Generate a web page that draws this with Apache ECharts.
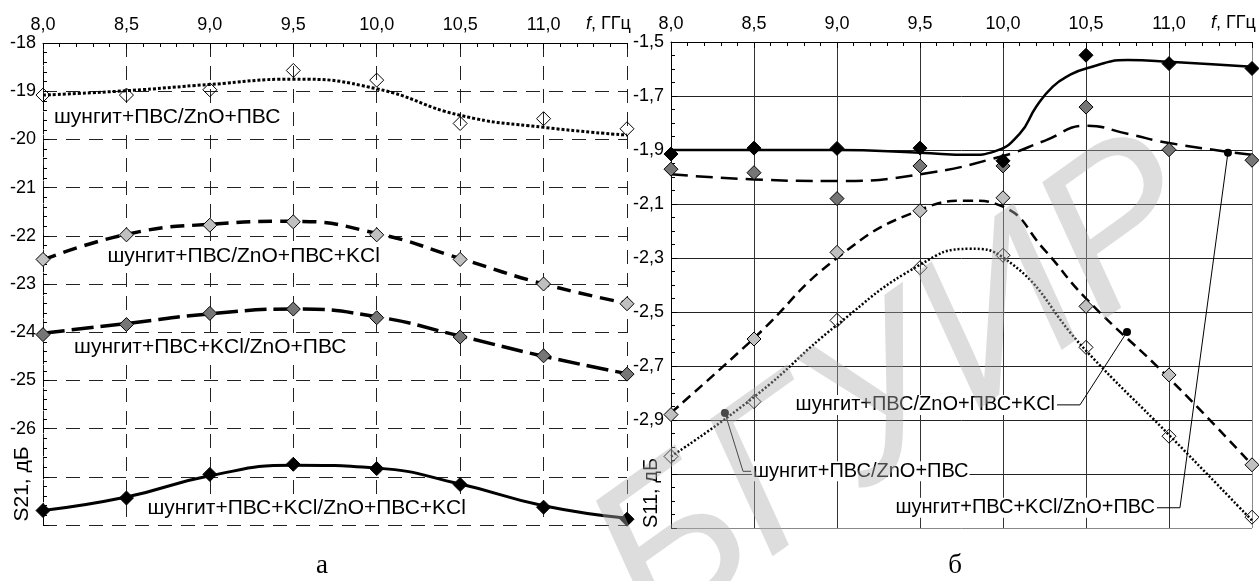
<!DOCTYPE html>
<html><head><meta charset="utf-8">
<script src="https://cdn.jsdelivr.net/npm/echarts@6/dist/echarts.min.js"></script>
<style>html,body{margin:0;padding:0;background:#fff}#c{width:1259px;height:581px}</style>
</head><body><div id="c"></div>
<script>
// ---------- DATA ----------
const freq = [8.0, 8.5, 9.0, 9.5, 10.0, 10.5, 11.0, 11.5];
const xTickValues = [8.0, 8.5, 9.0, 9.5, 10.0, 10.5, 11.0];
const xTickLabels = ['8,0', '8,5', '9,0', '9,5', '10,0', '10,5', '11,0'];
const xUnitLabel = ', ГГц';
const s21TickValues = [-18, -19, -20, -21, -22, -23, -24, -25, -26];
const s21TickLabels = ['-18', '-19', '-20', '-21', '-22', '-23', '-24', '-25', '-26'];
const s11TickValues = [-1.5, -1.7, -1.9, -2.1, -2.3, -2.5, -2.7, -2.9];
const s11TickLabels = ['-1,5', '-1,7', '-1,9', '-2,1', '-2,3', '-2,5', '-2,7', '-2,9'];
const s21Name = 'S21, дБ';
const s11Name = 'S11, дБ';
const panelA = 'а';
const panelB = 'б';
const watermark = 'БГУИР';

const nPvs = 'шунгит+ПВС/ZnO+ПВС';
const nPvsKcl = 'шунгит+ПВС/ZnO+ПВС+KCl';
const nKclPvs = 'шунгит+ПВС+KCl/ZnO+ПВС';
const nKclKcl = 'шунгит+ПВС+KCl/ZnO+ПВС+KCl';

// S21 measured points
const s21Pvs    = [-19.08, -19.08, -18.97, -18.57, -18.77, -19.67, -19.57, -19.78];
const s21PvsKcl = [-22.49, -21.98, -21.78, -21.71, -21.98, -22.49, -23.00, -23.41];
const s21KclPvs = [-24.05, -23.84, -23.61, -23.52, -23.70, -24.10, -24.49, -24.87];
const s21KclKcl = [-27.70, -27.44, -26.95, -26.74, -26.83, -27.16, -27.63, -27.88];
// S21 trend curves (read at freq)
const s21PvsFit    = [-19.08, -18.99, -18.86, -18.75, -18.95, -19.50, -19.75, -19.91];
const s21PvsKclFit = [-22.50, -21.97, -21.76, -21.70, -21.95, -22.47, -23.00, -23.40];
const s21KclPvsFit = [-24.02, -23.82, -23.62, -23.52, -23.68, -24.08, -24.50, -24.86];
const s21KclKclFit = [-27.70, -27.42, -26.98, -26.76, -26.82, -27.15, -27.60, -27.86];

// S11 measured points
const s11Pvs    = [-3.035, -2.832, -2.531, -2.336, -2.290, -2.631, -2.960, -3.260];
const s11PvsKcl = [-2.880, -2.600, -2.279, -2.125, -2.077, -2.479, -2.733, -3.066];
const s11KclPvs = [-1.971, -1.984, -2.080, -1.959, -1.959, -1.741, -1.899, -1.938];
const s11KclKcl = [-1.915, -1.893, -1.894, -1.893, -1.940, -1.549, -1.580, -1.598];
// S11 trend curves
const s11PvsFitX    = [8.0, 8.5, 9.0, 9.5, 9.8, 10.0, 10.5, 11.0, 11.5];
const s11PvsFitY    = [-3.035, -2.815, -2.548, -2.325, -2.266, -2.298, -2.643, -2.955, -3.272];
const s11PvsKclFitX = [8.0, 8.5, 9.0, 9.5, 9.8, 10.0, 10.25, 10.5, 11.0, 11.5];
const s11PvsKclFitY = [-2.873, -2.597, -2.300, -2.122, -2.088, -2.110, -2.270, -2.450, -2.745, -3.066];
const s11KclPvsFitX = [8.0, 8.5, 9.0, 9.5, 10.0, 10.25, 10.5, 10.75, 11.0, 11.5];
const s11KclPvsFitY = [-1.990, -2.009, -2.015, -1.990, -1.922, -1.866, -1.810, -1.840, -1.874, -1.918];
const s11KclKclFitX = [8.0, 8.5, 9.0, 9.5, 9.8, 9.95, 10.1, 10.2, 10.3, 10.4, 10.5, 10.75, 11.0, 11.5];
const s11KclKclFitY = [-1.900, -1.900, -1.900, -1.910, -1.918, -1.905, -1.840, -1.740, -1.665, -1.623, -1.598, -1.567, -1.573, -1.592];

// ---------- HELPERS ----------
const zip = (xs, ys) => xs.map((x, i) => [x, ys[i]]);
const lookup = (vals, labels) => v => {
  const i = vals.findIndex(t => Math.abs(t - v) < 1e-6);
  return i >= 0 ? labels[i] : '';
};
const FONT = 'Liberation Sans, Arial, sans-serif';

const chart = echarts.init(document.getElementById('c'), null, {renderer: 'canvas'});

const G = [
  {left: 43, top: 43, width: 584, height: 482},
  {left: 671, top: 42, width: 581, height: 486}
];

function xAxis(gi, dashed) {
  return {
    type: 'value', gridIndex: gi, position: 'top', min: 8, max: 11.5, interval: 0.5,
    axisLine: {show: true, lineStyle: {color: '#000', width: 1}},
    axisTick: {show: true, inside: true, length: 6, lineStyle: {color: '#000'}},
    minorTick: {show: true, splitNumber: 5, length: 4, lineStyle: {color: '#000'}},
    axisLabel: {show: true, formatter: lookup(xTickValues, xTickLabels), color: '#000',
      fontFamily: FONT, fontSize: 18, margin: 9, showMaxLabel: true},
    splitLine: {show: true, lineStyle: dashed ?
      {color: '#222', width: 1, type: [14, 9]} :
      {color: ['#333','#333','#333','#333','#333','#333','#333','#888'], width: 1}}
  };
}
function yAxis(gi, min, max, interval, minorSplit, vals, labels, dashed) {
  return {
    type: 'value', gridIndex: gi, min: min, max: max, interval: interval,
    axisLine: {show: true, lineStyle: {color: '#000', width: 1, type: dashed ? [14, 9] : 'solid'}},
    axisTick: {show: true, inside: true, length: 6, lineStyle: {color: '#000'}},
    minorTick: {show: true, splitNumber: minorSplit, length: 4, lineStyle: {color: '#000'}},
    axisLabel: {show: true, formatter: lookup(vals, labels), color: '#000',
      fontFamily: FONT, fontSize: 18, margin: 7, showMinLabel: true, showMaxLabel: true},
    splitLine: {show: true, lineStyle: dashed ?
      {color: '#222', width: 1, type: [14, 9]} :
      {color: ['#888','#222','#222','#222','#222','#222','#222','#222','#222','#222'], width: 1}}
  };
}

function fitLine(gi, data, width, type) {
  return {
    type: 'line', xAxisIndex: gi, yAxisIndex: gi, data: data, smooth: 0.5,
    showSymbol: false, silent: true, z: 3,
    lineStyle: {color: '#000', width: width, type: type, cap: 'butt'}
  };
}
function marks(gi, ys, fill) {
  return {
    type: 'scatter', xAxisIndex: gi, yAxisIndex: gi, data: zip(freq, ys),
    symbol: 'diamond', symbolSize: 14, z: 5, silent: true,
    itemStyle: {color: fill, borderColor: '#000', borderWidth: 1, opacity: 1}
  };
}

const option = {
  animation: false,
  backgroundColor: '#fff',
  grid: G.map(g => Object.assign({containLabel: false}, g)),
  xAxis: [xAxis(0, true), xAxis(1, false)],
  yAxis: [
    yAxis(0, -28, -18, 1, 5, s21TickValues, s21TickLabels, true),
    yAxis(1, -3.3, -1.5, 0.2, 4, s11TickValues, s11TickLabels, false)
  ],
  series: [
    fitLine(0, zip(freq, s21PvsFit), 3, [3, 2]),
    fitLine(0, zip(freq, s21PvsKclFit), 3.5, [14, 8]),
    fitLine(0, zip(freq, s21KclPvsFit), 3.5, [22, 7]),
    fitLine(0, zip(freq, s21KclKclFit), 3, 'solid'),
    marks(0, s21Pvs, 'rgba(255,255,255,0)'),
    marks(0, s21PvsKcl, '#c0c0c0'),
    marks(0, s21KclPvs, '#767676'),
    marks(0, s21KclKcl, '#000'),
    fitLine(1, zip(s11PvsFitX, s11PvsFitY), 2.5, [2, 2]),
    fitLine(1, zip(s11PvsKclFitX, s11PvsKclFitY), 2.5, [10, 6]),
    fitLine(1, zip(s11KclPvsFitX, s11KclPvsFitY), 2.5, [17, 8]),
    fitLine(1, zip(s11KclKclFitX, s11KclKclFitY), 2.5, 'solid'),
    marks(1, s11Pvs, 'rgba(255,255,255,0)'),
    marks(1, s11PvsKcl, '#c0c0c0'),
    marks(1, s11KclPvs, '#767676'),
    marks(1, s11KclKcl, '#000')
  ]
};
chart.setOption(option);

// ---------- ANNOTATIONS (data coordinates) ----------
const leftLabels = [
  {text: nPvs,    at: [8.06, -19.54]},
  {text: nPvsKcl, at: [8.38, -22.43]},
  {text: nKclPvs, at: [8.18, -24.31]},
  {text: nKclKcl, at: [8.62, -27.65]}
];
const rightLeaders = [
  {text: nPvs,    dot: [8.325, -2.874], bend: [8.434, -3.090], side: 'left'},
  {text: nPvsKcl, dot: [10.747, -2.574], bend: [10.464, -2.844], side: 'right'},
  {text: nKclPvs, dot: [11.355, -1.910], bend: [11.066, -3.225], side: 'right'}
];

const px = (gi, p) => chart.convertToPixel({gridIndex: gi}, p);
const gfx = [];
leftLabels.forEach(l => {
  const p = px(0, l.at);
  gfx.push({type: 'text', silent: true, z: 10, x: p[0], y: p[1],
    style: {text: l.text, font: '21px ' + FONT, fill: '#000', align: 'left', verticalAlign: 'middle',
      backgroundColor: '#fff', padding: [0, 1]}});
});
rightLeaders.forEach(l => {
  const d = px(1, l.dot), b = px(1, l.bend);
  const tx = l.side === 'left' ? b[0] + 9 : b[0] - 24;
  const ex = l.side === 'left' ? b[0] + 8 : b[0] - 23;
  gfx.push({type: 'polyline', silent: true, z: 10,
    shape: {points: [d, b, [ex, b[1]]]}, style: {stroke: '#000', lineWidth: 1, fill: null}});
  gfx.push({type: 'circle', silent: true, z: 10, shape: {cx: d[0], cy: d[1], r: 4}, style: {fill: '#000'}});
  gfx.push({type: 'text', silent: true, z: 10, x: tx, y: b[1],
    style: {text: l.text, font: '20px ' + FONT, fill: '#000',
      align: l.side === 'left' ? 'left' : 'right', verticalAlign: 'middle',
      backgroundColor: '#fff', padding: [0, 1]}});
});
// unit labels on x axes
[0, 1].forEach(gi => {
  const p = px(gi, [11.5, gi === 0 ? -18 : -1.5]);
  gfx.push({type: 'text', silent: true, z: 10, x: p[0] - 41, y: p[1] - 19,
    style: {text: '{i|f}' + xUnitLabel, font: '18px ' + FONT, fill: '#000', align: 'left', verticalAlign: 'middle',
      rich: {i: {fontStyle: 'italic', font: 'italic 18px ' + FONT}}}});
});
// axis names
gfx.push({type: 'text', silent: true, z: 10, x: 22, y: 484, rotation: Math.PI / 2,
  style: {text: s21Name, font: '21px ' + FONT, fill: '#000', align: 'center', verticalAlign: 'middle'}});
gfx.push({type: 'text', silent: true, z: 10, x: 651, y: 493, rotation: Math.PI / 2,
  style: {text: s11Name, font: '20px ' + FONT, fill: '#000', align: 'center', verticalAlign: 'middle'}});
// panel letters
gfx.push({type: 'text', silent: true, z: 10, x: 322, y: 566,
  style: {text: panelA, font: '27px Liberation Serif, Times New Roman, serif', fill: '#000', align: 'center', verticalAlign: 'middle'}});
gfx.push({type: 'text', silent: true, z: 10, x: 955, y: 566,
  style: {text: panelB, font: '27px Liberation Serif, Times New Roman, serif', fill: '#000', align: 'center', verticalAlign: 'middle'}});
// watermark
gfx.push({type: 'text', silent: true, z: 20, x: 900, y: 392, rotation: 0.62,
  style: {text: watermark, font: 'italic 215px Liberation Sans, Arial, sans-serif',
    fill: 'rgba(175,175,175,0.42)', align: 'center', verticalAlign: 'middle'}});

chart.setOption({graphic: gfx});
</script>
</body></html>
